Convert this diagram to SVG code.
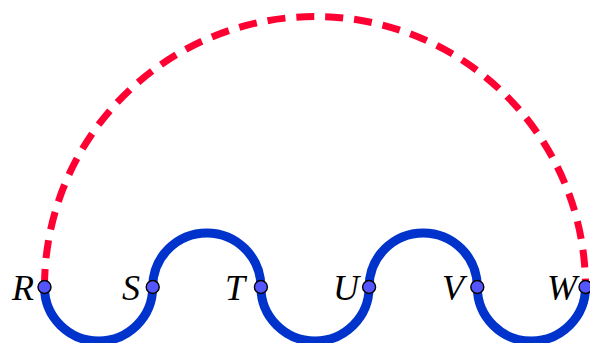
<svg xmlns="http://www.w3.org/2000/svg" width="590" height="343" viewBox="0 0 590 343">
<style>
.lbl{font-family:"Liberation Serif","DejaVu Serif",serif;font-style:italic;font-size:36px;fill:#000;text-anchor:end}
.pt{fill:#5555ff;stroke:#000;stroke-width:1.4}
</style>
<rect width="590" height="343" fill="#fff"/>
<g id="connectors" fill="none">
<path id="dashed-arc" d="M44.5,287 A270.5,270.5 0 0 1 585.5,287" stroke="#ff0033" stroke-width="7" stroke-dasharray="18 11"/>
<path id="wave" d="M44.5,287 A54.1,54.1 0 0 0 152.7,287 A54.1,54.1 0 0 1 260.9,287 A54.1,54.1 0 0 0 369.1,287 A54.1,54.1 0 0 1 477.3,287 A54.1,54.1 0 0 0 585.5,287" stroke="#0033cc" stroke-width="9"/>
</g>
<g id="R"><circle class="pt" cx="44.5" cy="287" r="6.5"/><text class="lbl" x="34" y="300">R</text></g>
<g id="S"><circle class="pt" cx="152.7" cy="287" r="6.5"/><text class="lbl" x="140" y="300">S</text></g>
<g id="T"><circle class="pt" cx="260.9" cy="287" r="6.5"/><text class="lbl" x="245" y="300">T</text></g>
<g id="U"><circle class="pt" cx="369.1" cy="287" r="6.5"/><text class="lbl" x="359" y="300">U</text></g>
<g id="V"><circle class="pt" cx="477.3" cy="287" r="6.5"/><text class="lbl" x="464" y="300">V</text></g>
<g id="W"><circle class="pt" cx="585.5" cy="287" r="6.5"/><text class="lbl" x="577" y="300">W</text></g>
</svg>
